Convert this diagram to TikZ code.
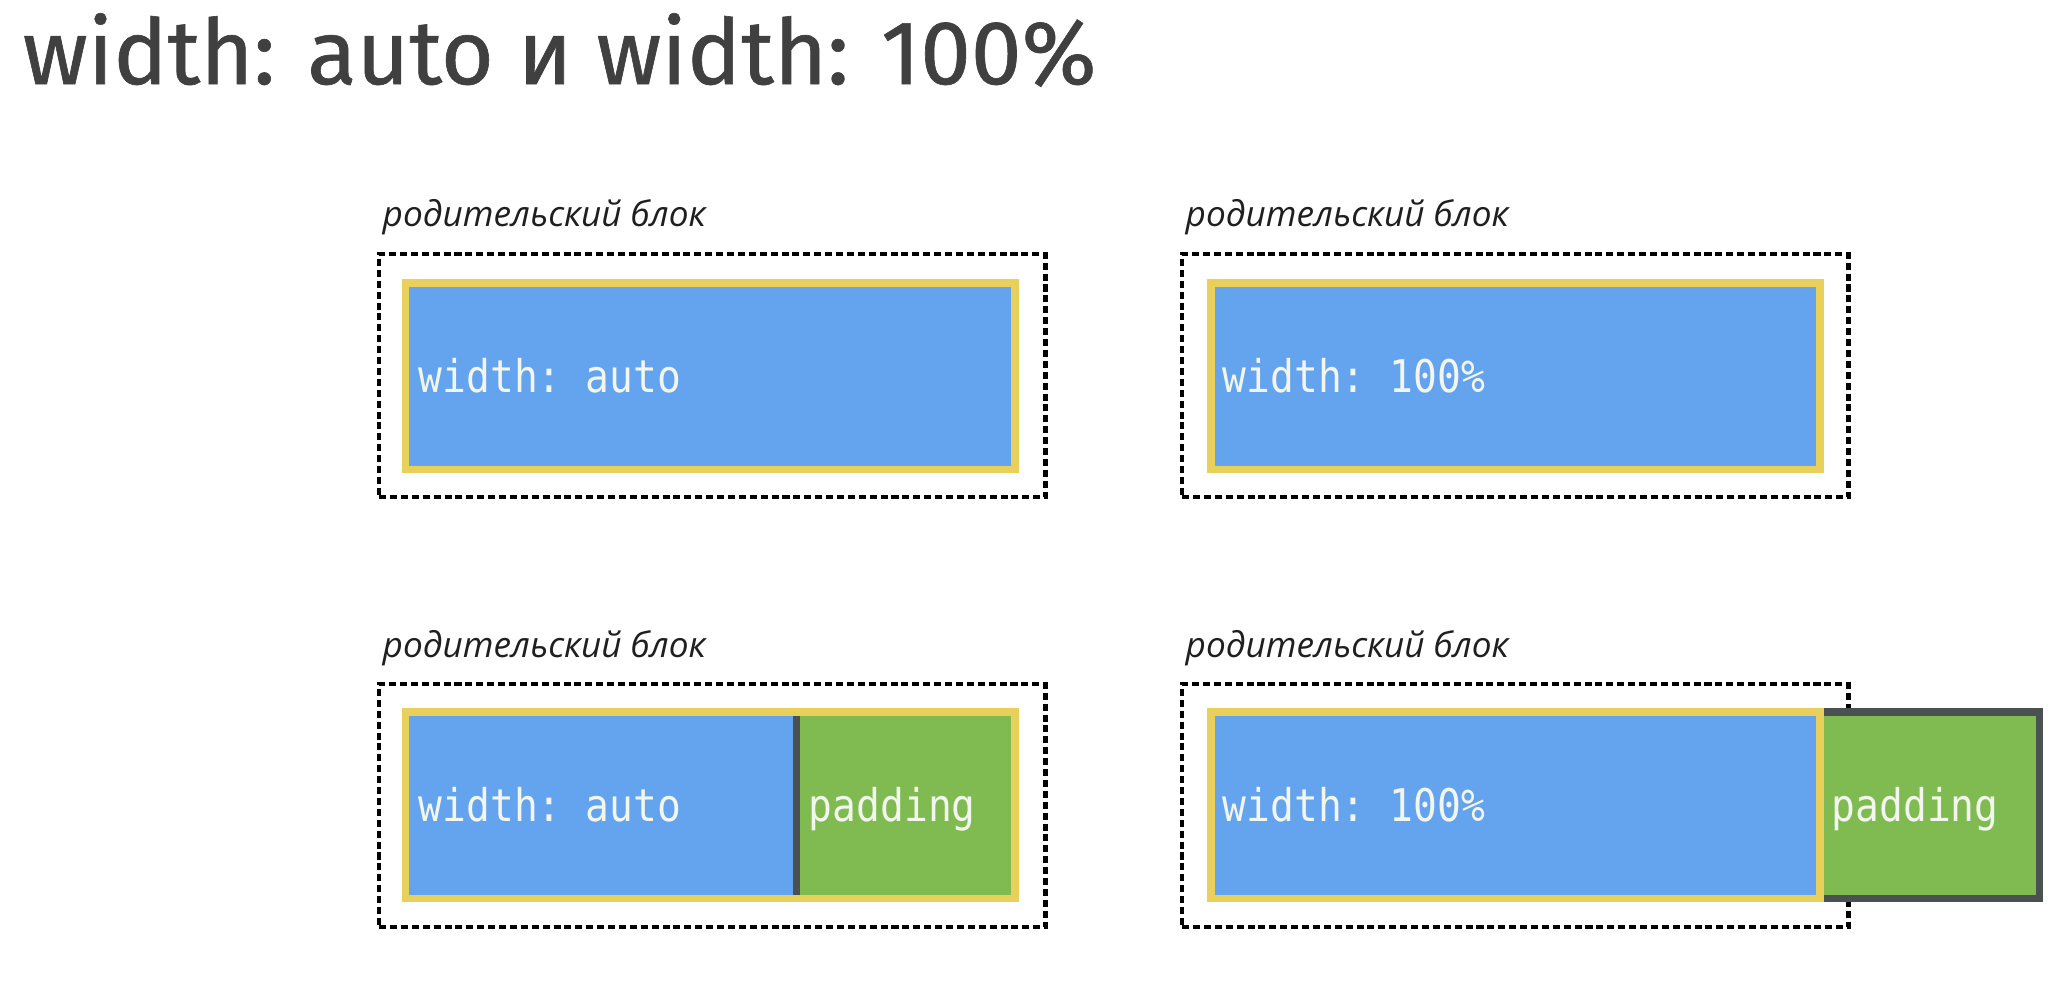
\documentclass[tikz,border=0pt]{standalone}
\usepackage{fontspec}
\setmainfont{Open Sans}
\newfontfamily\titlefont[FakeBold=0.7]{Fira Sans}
\newfontfamily\codefont[FakeStretch=0.88]{DejaVu Sans Mono}
\usetikzlibrary{positioning}
\definecolor{boxblue}{HTML}{64A3EE}
\definecolor{boxyellow}{HTML}{E9D05A}
\definecolor{boxgreen}{HTML}{80BB52}
\definecolor{boxgray}{HTML}{4B5053}
\definecolor{titlegray}{HTML}{404040}
\definecolor{codewhite}{HTML}{F3F6EE}

\begin{document}
\begin{tikzpicture}[x=0.01cm, y=-0.01cm,
  parent/.style={draw=black, line width=1.2pt, dash pattern=on 2pt off 1.1pt, minimum width=6.66cm, minimum height=2.43cm, anchor=north west, inner sep=0pt},
  block/.style={fill=boxblue, draw=boxyellow, line width=2.13pt, minimum width=6.09cm, minimum height=1.865cm, anchor=north west, inner sep=0pt},
  part/.style={minimum height=1.865cm, anchor=north west, inner sep=0pt},
  caption/.style={anchor=base west, font=\itshape\fontsize{10}{12}\selectfont, text=black!88},
  code/.style={anchor=base west, inner sep=0pt, font=\codefont\fontsize{12.8}{14}\selectfont\frenchspacing, text=codewhite}]

  \fill[white] (0,0) rectangle (2070,990);
  \useasboundingbox (0,0) rectangle (2070,990);

  % Title
  \node[anchor=base west, inner sep=0pt, font=\titlefont\fontsize{25.8}{30}\selectfont, text=titlegray] (title) at (22,84) {width: auto и width: 100\%};

  % Parent blocks
  \node[parent] (P1) at (377,252) {};
  \node[parent] (P2) at (1180,252) {};
  \node[parent] (P3) at (377,682) {};
  \node[parent] (P4) at (1180,682) {};

  % Labels
  \node[caption, inner sep=0pt] (L1) at ([xshift=0.05cm, yshift=0.26cm]P1.north west) {родительский блок};
  \node[caption, inner sep=0pt] (L2) at ([xshift=0.05cm, yshift=0.26cm]P2.north west) {родительский блок};
  \node[caption, inner sep=0pt] (L3) at ([xshift=0.05cm, yshift=0.25cm]P3.north west) {родительский блок};
  \node[caption, inner sep=0pt] (L4) at ([xshift=0.05cm, yshift=0.25cm]P4.north west) {родительский блок};

  % First row
  \node[block] (B1) at (402,279) {};
  \node[code] (T1) at ([xshift=0.16cm, yshift=-0.16cm]B1.west) {width: auto};
  \node[block] (B2) at (1207,279) {};
  \node[code] (T2) at ([xshift=0.15cm, yshift=-0.16cm]B2.west) {width: 100\%};

  % Second row, left
  \node[part, fill=boxblue, minimum width=3.8875cm] (B3) at (405.75,711.75) {};
  \node[part, fill=boxgreen, minimum width=2.2075cm, right=0pt of B3] (G3) {};
  \draw[boxgray, line width=2pt] (B3.north east) -- (B3.south east);
  \node[block, fill=none] (F3) at (402,708) {};
  \node[code] (T3) at ([xshift=0.16cm, yshift=-0.16cm]F3.west) {width: auto};
  \node[code] (T4) at ([xshift=0.12cm]T3.base -| G3.west) {padding};

  % Second row, right
  \node[part, fill=boxgreen, draw=boxgray, line width=2.13pt, minimum width=2.205cm] (G4) at (1815,708) {};
  \node[block] (B4) at (1207,708) {};
  \node[code] (T5) at ([xshift=0.15cm, yshift=-0.16cm]B4.west) {width: 100\%};
  \node[code] (T6) at ([xshift=0.16cm]T5.base -| G4.west) {padding};

\end{tikzpicture}
\end{document}
